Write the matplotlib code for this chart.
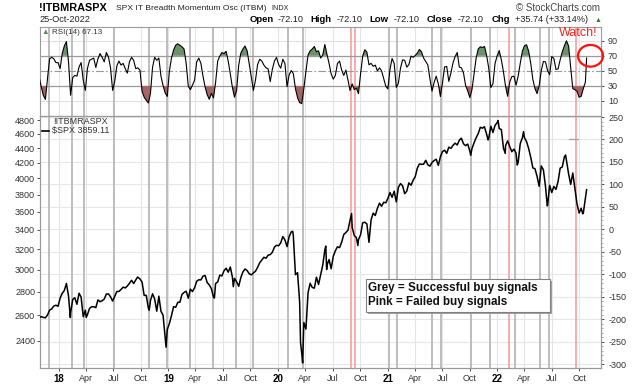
import numpy as np
import pandas as pd
import matplotlib
matplotlib.use("Agg")
import matplotlib.pyplot as plt
from matplotlib.patches import Ellipse, Rectangle
from matplotlib.lines import Line2D
from matplotlib.ticker import FixedLocator, NullLocator, MultipleLocator

plt.rcParams['font.family'] = ['Liberation Sans', 'DejaVu Sans']
plt.rcParams['axes.unicode_minus'] = False

W, H = 638, 384

# ---- data ----
# $SPX weekly closes (Fridays), 2017-10-27 .. 2022-10-21
spx_start = '2017-10-27'
spx_2017 = [2581, 2588, 2582, 2579, 2602, 2642, 2652, 2676, 2683, 2674]
spx_2018 = [2743, 2786, 2810, 2873, 2762, 2620, 2732, 2747, 2691, 2786, 2752, 2588, 2641,
            2604, 2656, 2670, 2670, 2663, 2728, 2713, 2721, 2735, 2779, 2780, 2755, 2718,
            2760, 2801, 2802, 2819, 2840, 2833, 2850, 2875, 2902, 2872, 2905, 2930, 2914,
            2886, 2767, 2768, 2659, 2723, 2781, 2736, 2633, 2760, 2633, 2600, 2417, 2486]
spx_2019 = [2532, 2596, 2671, 2665, 2707, 2708, 2776, 2793, 2804, 2743, 2822, 2801, 2834,
            2893, 2907, 2905, 2940, 2946, 2881, 2860, 2826, 2752, 2873, 2887, 2950, 2942,
            2990, 3014, 2977, 3026, 2932, 2919, 2889, 2847, 2926, 2979, 3007, 2992, 2962,
            2952, 2970, 2986, 3023, 3067, 3093, 3120, 3110, 3141, 3146, 3169, 3221, 3240]
spx_2020 = [3235, 3265, 3330, 3295, 3226, 3328, 3380, 3338, 2954, 2972, 2711, 2305, 2541,
            2489, 2790, 2875, 2837, 2831, 2930, 2864, 2955, 3044, 3194, 3041, 3098, 3009,
            3130, 3185, 3225, 3216, 3271, 3351, 3373, 3397, 3508, 3427, 3341, 3319, 3298,
            3348, 3477, 3484, 3465, 3270, 3510, 3585, 3558, 3638, 3699, 3663, 3709, 3703]
spx_2021 = [3756, 3825, 3768, 3841, 3714, 3887, 3934, 3907, 3811, 3842, 3943, 3913, 3975,
            4020, 4129, 4185, 4180, 4181, 4233, 4174, 4156, 4204, 4230, 4247, 4166, 4281,
            4352, 4370, 4327, 4412, 4395, 4437, 4468, 4442, 4509, 4535, 4459, 4433, 4455,
            4357, 4391, 4471, 4545, 4605, 4697, 4683, 4698, 4595, 4538, 4712, 4620, 4725, 4766]
spx_2022 = [4677, 4663, 4398, 4432, 4501, 4419, 4349, 4385, 4329, 4204, 4463, 4543, 4546,
            4488, 4393, 4272, 4132, 4123, 4024, 3901, 4158, 4109, 3901, 3675, 3912, 3825,
            3899, 3863, 3962, 4130, 4145, 4280, 4228, 4058, 3924, 4067, 3873, 3693, 3586,
            3640, 3583, 3752]
spx_last_date = '2022-10-25'
spx_last = 3859.11

# intra-week turning points visible on the daily line
spx_extra_dates = ['2018-02-08', '2018-04-02', '2018-09-20', '2018-10-29', '2018-12-24',
                   '2019-06-03', '2019-08-05', '2020-02-19', '2020-03-16', '2020-03-23',
                   '2020-06-08', '2020-06-11', '2020-09-02', '2020-09-23', '2021-01-27',
                   '2021-09-02', '2021-10-04', '2021-11-18', '2021-12-01', '2022-01-03',
                   '2022-01-27', '2022-03-08', '2022-03-29', '2022-06-16', '2022-08-16',
                   '2022-10-12']
spx_extra = [2581, 2582, 2931, 2641, 2351, 2744, 2844, 3386, 2386, 2237, 3232, 3002, 3580,
             3237, 3750, 4537, 4300, 4705, 4513, 4797, 4326, 4171, 4632, 3667, 4305, 3577]

# RSI(14) of !ITBMRASPX, weekly readings on the same Fridays
rsi_weekly = [42,
              29, 17.6, 12, 40, 66, 68, 66, 61, 61, 53,
              73, 83, 89, 62, 17.6, 41, 44, 43, 55, 61,
              37.6, 24, 53, 64, 65.5, 67, 54.5, 66, 73, 68,
              62, 74.4, 68.7, 54, 24, 36, 56.7, 63, 57.6, 60,
              53, 47, 62, 68, 64, 53, 54, 51, 23, 15,
              11, 7.3, 20, 55, 68, 64, 67, 43, 30.5, 20.7,
              16, 49.5, 67, 77.6, 84, 86, 84, 82, 79, 60,
              29.6, 25, 31, 37.6, 62, 67, 60, 43, 28.7, 18.4,
              12.2, 20, 14, 34.5, 63, 69.6, 74.4, 73, 76, 63,
              46, 28, 15, 24, 57.6, 73.5, 79, 83, 76.7, 59.8,
              42, 24, 38, 58.4, 65.5, 63, 57.6, 54, 52.7, 35.8,
              52, 63, 67.8, 58.4, 53.6, 65.5, 59.8, 29, 44.7, 50.4,
              46.4, 26.4, 14.4, 7.8, 6.4, 26.4, 49.5, 71, 76.7, 79,
              82.4, 75.3, 76.7, 67, 71, 85, 72, 60, 46, 39,
              44, 59.8, 63, 51, 44, 51, 38, 23.8, 32.7, 25,
              27, 19.8, 46, 69.6, 78, 75, 58, 60, 56, 57.6,
              50, 54, 50, 40, 29.6, 26, 52, 66.4, 59.8, 28,
              33.6, 53.6, 64.7, 64, 55, 58.4, 69.6, 68, 70.4, 73.5,
              78.4, 75.3, 67, 62.4, 58, 39.8, 23, 34.5, 43, 32.7,
              15.8, 34.5, 55.3, 55.8, 36, 47.3, 60.7, 69, 74.4, 55,
              54, 47, 30.4, 23.3, 14.4, 24.7, 46.4, 67, 79, 82,
              81, 82.4, 70.4, 53.6, 27.8, 33, 59.8, 70, 77, 64.7,
              48.7, 29.6, 16.2, 35.3, 42.4, 43, 31, 43, 60, 76,
              83.3, 84.7, 76, 59.8, 38.4, 26.4, 19.8, 30, 50.4, 62.4,
              62, 50.4, 45, 69, 66.4, 51.8, 52.7, 64.7, 75.3, 83.3,
              90, 83, 54.4, 26.4, 25, 23, 15, 16.2, 26.4, 35]
rsi_last = 67.13

# buy signal markers
grey_signals = ['2017-11-28', '2018-02-13', '2018-03-26', '2018-07-02', '2018-10-29',
                '2018-12-28', '2019-03-15', '2019-05-29', '2019-08-15', '2019-10-09',
                '2020-02-03', '2020-03-23', '2021-01-04', '2021-02-01', '2021-05-28',
                '2021-06-28', '2021-10-06', '2021-12-08', '2022-02-28', '2022-05-23',
                '2022-06-22']
pink_signals = ['2020-09-01', '2020-09-15', '2022-02-07', '2022-09-19']

itbm_marker_dates = ['2022-08-29', '2022-09-27']
itbm_marker_level = 200

# ---- build series ----
spx_weekly = spx_2017 + spx_2018 + spx_2019 + spx_2020 + spx_2021 + spx_2022
weeks = pd.date_range(spx_start, periods=len(spx_weekly), freq='W-FRI')
assert weeks[-1] == pd.Timestamp('2022-10-21')
assert len(rsi_weekly) == len(weeks)

spx = pd.concat([pd.Series(spx_weekly, index=weeks, dtype=float),
                 pd.Series(spx_extra, index=pd.to_datetime(spx_extra_dates), dtype=float),
                 pd.Series([spx_last], index=[pd.Timestamp(spx_last_date)])]).sort_index()
spx = spx[~spx.index.duplicated()]

rsi = pd.concat([pd.Series(rsi_weekly, index=weeks, dtype=float),
                 pd.Series([rsi_last], index=[pd.Timestamp(spx_last_date)])])

quarters = pd.date_range('2018-01-01', '2022-10-01', freq='QS')
q_labels = [("%02d" % (d.year % 100)) if d.month == 1 else d.strftime('%b') for d in quarters]

x_left, x_right = pd.Timestamp('2017-10-30'), pd.Timestamp('2022-12-12')

# ---- figure ----
fig = plt.figure(figsize=(W / 100, H / 100), dpi=100)


def fx(x):
    return x / W


def fy(y):
    return 1 - y / H


ax_r = fig.add_axes([fx(40), fy(115.7), 561 / W, (115.7 - 27) / H])
ax = fig.add_axes([fx(40), fy(368), 561 / W, (368 - 115.7) / H])
axl = ax.twinx()

spine_c = '#9a9a9a'
tick_c = '#333333'
for a in (ax_r, ax, axl):
    for s in a.spines.values():
        s.set_color(spine_c)
        s.set_linewidth(0.8)

# RSI panel
for d in quarters:
    ax_r.axvline(d, color='#e4e4e4', lw=0.8, zorder=0)
for d in grey_signals:
    ax_r.axvline(pd.Timestamp(d), color='#b8b8b8', lw=1.3, zorder=1)
for d in pink_signals:
    ax_r.axvline(pd.Timestamp(d), color='#f4a0a0', lw=1.2, zorder=1)
for lvl in (90, 10):
    ax_r.axhline(lvl, color='#e0e0e0', lw=0.8, zorder=0)
for lvl in (70, 30):
    ax_r.axhline(lvl, color='#9a9a9a', lw=0.9, zorder=2)
ax_r.axhline(50, color='#9a9a9a', lw=0.8, ls=(0, (7, 2, 1.5, 2)), zorder=2)

rv = rsi.values
ax_r.fill_between(rsi.index, rv, 70, where=rv > 70, interpolate=True, color='#6b936b', lw=0, zorder=3)
ax_r.fill_between(rsi.index, rv, 30, where=rv < 30, interpolate=True, color='#a56565', lw=0, zorder=3)
ax_r.plot(rsi.index, rv, color='black', lw=0.8, zorder=4)

ax_r.set_xlim(x_left, x_right)
ax_r.set_ylim(-9.6, 108.3)
ax_r.set_xticks([])
ax_r.set_yticks([10, 30, 50, 70, 90])
ax_r.yaxis.tick_right()
ax_r.tick_params(axis='y', labelsize=6.5, colors=tick_c, length=2, pad=3, width=0.6)

# price panel: host axis carries the linear right scale, twin carries log $SPX
for d in quarters:
    ax.axvline(d, color='#e4e4e4', lw=0.8, zorder=0)
ax.set_ylim(-308.2, 252.9)
ax.set_yticks(np.arange(-300, 251, 50))
for v in np.arange(-300, 251, 50):
    ax.axhline(v, color='#e6e6e6', lw=0.8, zorder=0)
for d in grey_signals:
    ax.axvline(pd.Timestamp(d), color='#b8b8b8', lw=1.3, zorder=1)
for d in pink_signals:
    ax.axvline(pd.Timestamp(d), color='#f4a0a0', lw=1.2, zorder=1)
ax.plot(pd.to_datetime(itbm_marker_dates), [itbm_marker_level] * 2, color='#a0a0a0', lw=0.9)
ax.yaxis.tick_right()
ax.yaxis.set_minor_locator(MultipleLocator(10))
ax.tick_params(axis='y', which='major', labelsize=6.5, colors=tick_c, length=2.5, pad=3, width=0.6)
ax.tick_params(axis='y', which='minor', length=1.5, width=0.5, colors='#888888')

axl.set_yscale('log')
axl.plot(spx.index, spx.values, color='black', lw=1.1, zorder=5)
axl.set_ylim(2202, 4871)
spx_ticks = list(range(2400, 4801, 200))
axl.yaxis.set_major_locator(FixedLocator(spx_ticks))
axl.yaxis.set_minor_locator(NullLocator())
axl.set_yticklabels([str(t) for t in spx_ticks])
axl.yaxis.tick_left()
axl.tick_params(axis='y', labelsize=6.5, colors=tick_c, length=2.5, pad=1, width=0.6)

ax.set_xlim(x_left, x_right)
ax.set_xticks(quarters)
ax.set_xticklabels(q_labels)
ax.tick_params(axis='x', labelsize=6.5, colors=tick_c, length=2.5, pad=2, width=0.6)
for lab, d in zip(ax.get_xticklabels(), quarters):
    if d.month == 1:
        lab.set_fontweight('bold')
        lab.set_color('black')
        lab.set_fontsize(7)

# ---- header texts ----
fig.text(fx(39), fy(8), '!ITBMRASPX', fontsize=7.8, fontweight='bold', va='center', ha='left')
fig.text(fx(116.5), fy(8), 'SPX IT Breadth Momentum Osc (ITBM)', fontsize=6.1, va='center',
         ha='left', color='#222222')
fig.text(fx(271), fy(8.5), 'INDX', fontsize=5.2, va='center', ha='left', color='#222222')
fig.text(fx(39), fy(19.5), '25-Oct-2022', fontsize=6.6, va='center', ha='left', color='#222222')
fig.text(fx(600), fy(8), '\u00a9 StockCharts.com', fontsize=7, va='center', ha='right', color='#444444')

hdr = [('Open', 250, True), ('-72.10', 277.5, False), ('High', 310, True), ('-72.10', 336.5, False),
       ('Low', 369.7, True), ('-72.10', 394, False), ('Close', 427, True), ('-72.10', 458, False),
       ('Chg', 492, True), ('+35.74 (+33.14%)', 514.7, False)]
for s, x, b in hdr:
    fig.text(fx(x), fy(20), s, fontsize=6.8 if b else 6.6, fontweight='bold' if b else 'normal',
             va='center', ha='left', color='black' if b else '#222222')
fig.text(fx(598), fy(20), '\u25b2', fontsize=5, va='center', ha='center', color='#2e7d32')

fig.text(fx(45), fy(32.5), '\u25b2', fontsize=5.5, va='center', ha='center', color='#5a8a5a')
fig.text(fx(52), fy(32.5), 'RSI(14) 67.13', fontsize=5.8, va='center', ha='left', color='#333333')

fig.text(fx(578), fy(33.3), 'Watch!', fontsize=9, va='center', ha='center', color='#ff2020')
fig.add_artist(Ellipse((fx(590.5), fy(55.8)), 25 / W, 21.7 / H, transform=fig.transFigure,
                       fill=False, edgecolor='#ff1010', lw=1.6))

# price panel legend
fig.text(fx(53), fy(121.7), '!ITBMRASPX', fontsize=6.5, va='center', ha='left', color='#333333')
fig.add_artist(Line2D([fx(42.3), fx(49)], [fy(131), fy(131)], transform=fig.transFigure,
                      color='black', lw=1.2))
fig.text(fx(51.7), fy(131), '$SPX 3859.11', fontsize=6.5, va='center', ha='left', color='#333333')

# annotation box
fig.add_artist(Rectangle((fx(367.7), fy(313.7)), 184 / W, 32.4 / H, transform=fig.transFigure,
                         facecolor='#a0a0a0', edgecolor='none'))
fig.add_artist(Rectangle((fx(365.7), fy(311.7)), 184 / W, 32.4 / H, transform=fig.transFigure,
                         facecolor='white', edgecolor='#808080', lw=0.8))
fig.text(fx(368.5), fy(288.3), 'Grey = Successful buy signals', fontsize=8.4, fontweight='bold',
         va='center', ha='left', color='#111111')
fig.text(fx(368.5), fy(302.3), 'Pink = Failed buy signals', fontsize=8.4, fontweight='bold',
         va='center', ha='left', color='#111111')

fig.savefig('out.png', dpi=100)
